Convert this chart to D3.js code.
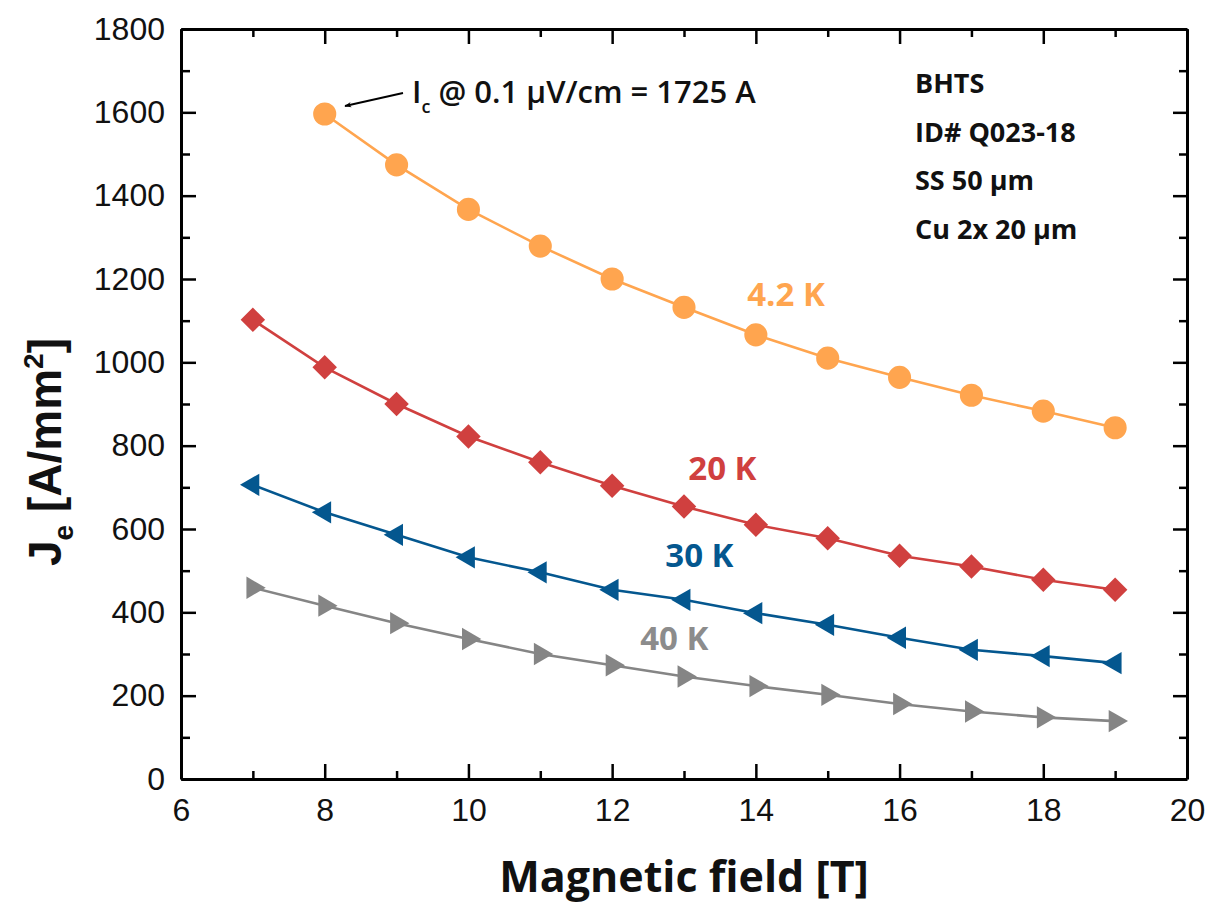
<!DOCTYPE html>
<html>
<head>
<meta charset="utf-8">
<script src="https://cdn.jsdelivr.net/npm/d3@7"></script>
<style>
  html, body { margin: 0; padding: 0; background: #ffffff; }
  svg { display: block; }
</style>
</head>
<body>
<svg id="chart" width="1210" height="907"></svg>
<script>
// Magnetic field values (T) for each temperature series
const field42 = [8, 9, 10, 11, 12, 13, 14, 15, 16, 17, 18, 19];
const fieldAll = [7, 8, 9, 10, 11, 12, 13, 14, 15, 16, 17, 18, 19];

// Engineering current density Je (A/mm^2)
const je42K = [1596, 1474, 1367, 1279, 1200, 1132, 1066, 1010, 964, 921, 883, 843];
const je20K = [1102, 988, 900, 822, 760, 704, 654, 610, 578, 536, 510, 478, 454];
const je30K = [706, 640, 586, 532, 496, 454, 430, 398, 370, 339, 310, 295, 278];
const je40K = [459, 416, 374, 336, 300, 273, 246, 223, 202, 180, 162, 148, 139];

// Tick values
const xMajorTicks = [6, 8, 10, 12, 14, 16, 18, 20];
const xMinorTicks = [7, 9, 11, 13, 15, 17, 19];
const yMajorTicks = [0, 200, 400, 600, 800, 1000, 1200, 1400, 1600, 1800];
const yMinorTicks = [100, 300, 500, 700, 900, 1100, 1300, 1500, 1700];

// Sample description lines
const infoLines = ["BHTS", "ID# Q023-18", "SS 50 \u03BCm", "Cu 2x 20 \u03BCm"];

const series = [
  { name: "4.2 K", x: field42, y: je42K, color: "#FFA54F", symbol: "circle", labelColor: "#FFA54F", lx: 13.88, ly: 1135 },
  { name: "20 K", x: fieldAll, y: je20K, color: "#D0403F", symbol: "diamond", labelColor: "#D0403F", lx: 13.06, ly: 718 },
  { name: "30 K", x: fieldAll, y: je30K, color: "#04578F", symbol: "triLeft", labelColor: "#04578F", lx: 12.74, ly: 509 },
  { name: "40 K", x: fieldAll, y: je40K, color: "#858585", symbol: "triRight", labelColor: "#8C8C8C", lx: 12.39, ly: 310 }
];

const svg = d3.select("#chart");
const plotLeft = 181, plotRight = 1187, plotTop = 29, plotBottom = 779;

const x = d3.scaleLinear().domain([6, 20]).range([plotLeft, plotRight]);
const y = d3.scaleLinear().domain([0, 1800]).range([plotBottom, plotTop]);

const tickFont = "'Liberation Sans', Arial, sans-serif";
const textFont = "'Open Sans', 'Noto Sans', sans-serif";

function styleAxis(g) {
  g.select(".domain").attr("stroke", "#000").attr("stroke-width", 3);
  g.selectAll(".tick line").attr("stroke", "#000").attr("stroke-width", 2.5);
  g.selectAll(".tick text").attr("fill", "#111").attr("font-family", tickFont).attr("font-size", 32);
}

// Bottom axis (labelled) and minor ticks
const gxb = svg.append("g").attr("transform", `translate(0,${plotBottom})`)
  .call(d3.axisBottom(x).tickValues(xMajorTicks).tickFormat(d3.format("d"))
    .tickSizeInner(-15).tickSizeOuter(0).tickPadding(19));
styleAxis(gxb);
const gxbm = svg.append("g").attr("transform", `translate(0,${plotBottom})`)
  .call(d3.axisBottom(x).tickValues(xMinorTicks).tickFormat("").tickSizeInner(-8).tickSizeOuter(0));
styleAxis(gxbm); gxbm.select(".domain").remove();

// Top axis (ticks only)
const gxt = svg.append("g").attr("transform", `translate(0,${plotTop})`)
  .call(d3.axisTop(x).tickValues(xMajorTicks).tickFormat("").tickSizeInner(-15).tickSizeOuter(0));
styleAxis(gxt);
const gxtm = svg.append("g").attr("transform", `translate(0,${plotTop})`)
  .call(d3.axisTop(x).tickValues(xMinorTicks).tickFormat("").tickSizeInner(-8).tickSizeOuter(0));
styleAxis(gxtm); gxtm.select(".domain").remove();

// Left axis (labelled)
const gyl = svg.append("g").attr("transform", `translate(${plotLeft},0)`)
  .call(d3.axisLeft(y).tickValues(yMajorTicks).tickFormat(d3.format("d"))
    .tickSizeInner(-15).tickSizeOuter(0).tickPadding(16));
styleAxis(gyl);
const gylm = svg.append("g").attr("transform", `translate(${plotLeft},0)`)
  .call(d3.axisLeft(y).tickValues(yMinorTicks).tickFormat("").tickSizeInner(-9).tickSizeOuter(0));
styleAxis(gylm); gylm.select(".domain").remove();

// Right axis (ticks only)
const gyr = svg.append("g").attr("transform", `translate(${plotRight},0)`)
  .call(d3.axisRight(y).tickValues(yMajorTicks).tickFormat("").tickSizeInner(-14).tickSizeOuter(0));
styleAxis(gyr);
const gyrm = svg.append("g").attr("transform", `translate(${plotRight},0)`)
  .call(d3.axisRight(y).tickValues(yMinorTicks).tickFormat("").tickSizeInner(-8).tickSizeOuter(0));
styleAxis(gyrm); gyrm.select(".domain").remove();

// Series lines and markers
const line = d3.line().x(d => x(d[0])).y(d => y(d[1]));
const symbols = {
  circle: { type: d3.symbolCircle, size: 420, rot: 0 },
  diamond: { type: d3.symbolSquare, size: 300, rot: 45 },
  triLeft: { type: d3.symbolTriangle, size: 215, rot: -90 },
  triRight: { type: d3.symbolTriangle, size: 215, rot: 90 }
};

series.forEach(s => {
  const pts = s.x.map((v, i) => [v, s.y[i]]);
  svg.append("path").datum(pts)
    .attr("d", line)
    .attr("fill", "none")
    .attr("stroke", s.color)
    .attr("stroke-width", 2.6);
  const sym = symbols[s.symbol];
  svg.append("g").selectAll("path").data(pts).join("path")
    .attr("d", d3.symbol().type(sym.type).size(sym.size))
    .attr("transform", d => `translate(${x(d[0])},${y(d[1])}) rotate(${sym.rot})`)
    .attr("fill", s.color);
  svg.append("text")
    .attr("x", x(s.lx)).attr("y", y(s.ly))
    .attr("font-family", textFont).attr("font-weight", 700).attr("font-size", 33)
    .attr("fill", s.labelColor)
    .text(s.name);
});

// Critical current annotation with arrow
svg.append("defs").append("marker")
  .attr("id", "arrowHead").attr("viewBox", "0 0 10 10")
  .attr("refX", 9).attr("refY", 5)
  .attr("markerWidth", 7).attr("markerHeight", 7)
  .attr("markerUnits", "userSpaceOnUse")
  .attr("orient", "auto")
  .append("path").attr("d", "M0,1 L10,5 L0,9 L3,5 Z").attr("fill", "#000");

svg.append("line")
  .attr("x1", 403).attr("y1", 93)
  .attr("x2", 345).attr("y2", 106)
  .attr("stroke", "#000").attr("stroke-width", 1.8)
  .attr("marker-end", "url(#arrowHead)");

const ann = svg.append("text")
  .attr("x", 412).attr("y", 103)
  .attr("font-family", textFont).attr("font-weight", 600).attr("font-size", 31)
  .attr("fill", "#111");
ann.append("tspan").text("I");
ann.append("tspan").attr("font-size", 18).attr("dy", 10).text("c");
ann.append("tspan").attr("dy", -10).text(" @ 0.1 \u03BCV/cm = 1725 A");

// Sample description
svg.append("g").selectAll("text").data(infoLines).join("text")
  .attr("x", 915).attr("y", (d, i) => 93 + i * 48.5)
  .attr("font-family", textFont).attr("font-weight", 700).attr("font-size", 27)
  .attr("fill", "#111")
  .text(d => d);

// Axis titles
svg.append("text")
  .attr("x", (plotLeft + plotRight) / 2).attr("y", 892)
  .attr("text-anchor", "middle")
  .attr("font-family", textFont).attr("font-weight", 700).attr("font-size", 43)
  .attr("fill", "#111")
  .text("Magnetic field [T]");

const yt = svg.append("text")
  .attr("transform", "translate(61,452) rotate(-90)")
  .attr("text-anchor", "middle")
  .attr("font-family", tickFont).attr("font-weight", 700).attr("font-size", 46)
  .attr("fill", "#111");
yt.append("tspan").text("J");
yt.append("tspan").attr("font-size", 28).attr("dy", 12).text("e");
yt.append("tspan").attr("dy", -12).text(" [A/mm");
yt.append("tspan").attr("font-size", 28).attr("dy", -18).text("2");
yt.append("tspan").attr("dy", 18).text("]");
</script>
</body>
</html>
